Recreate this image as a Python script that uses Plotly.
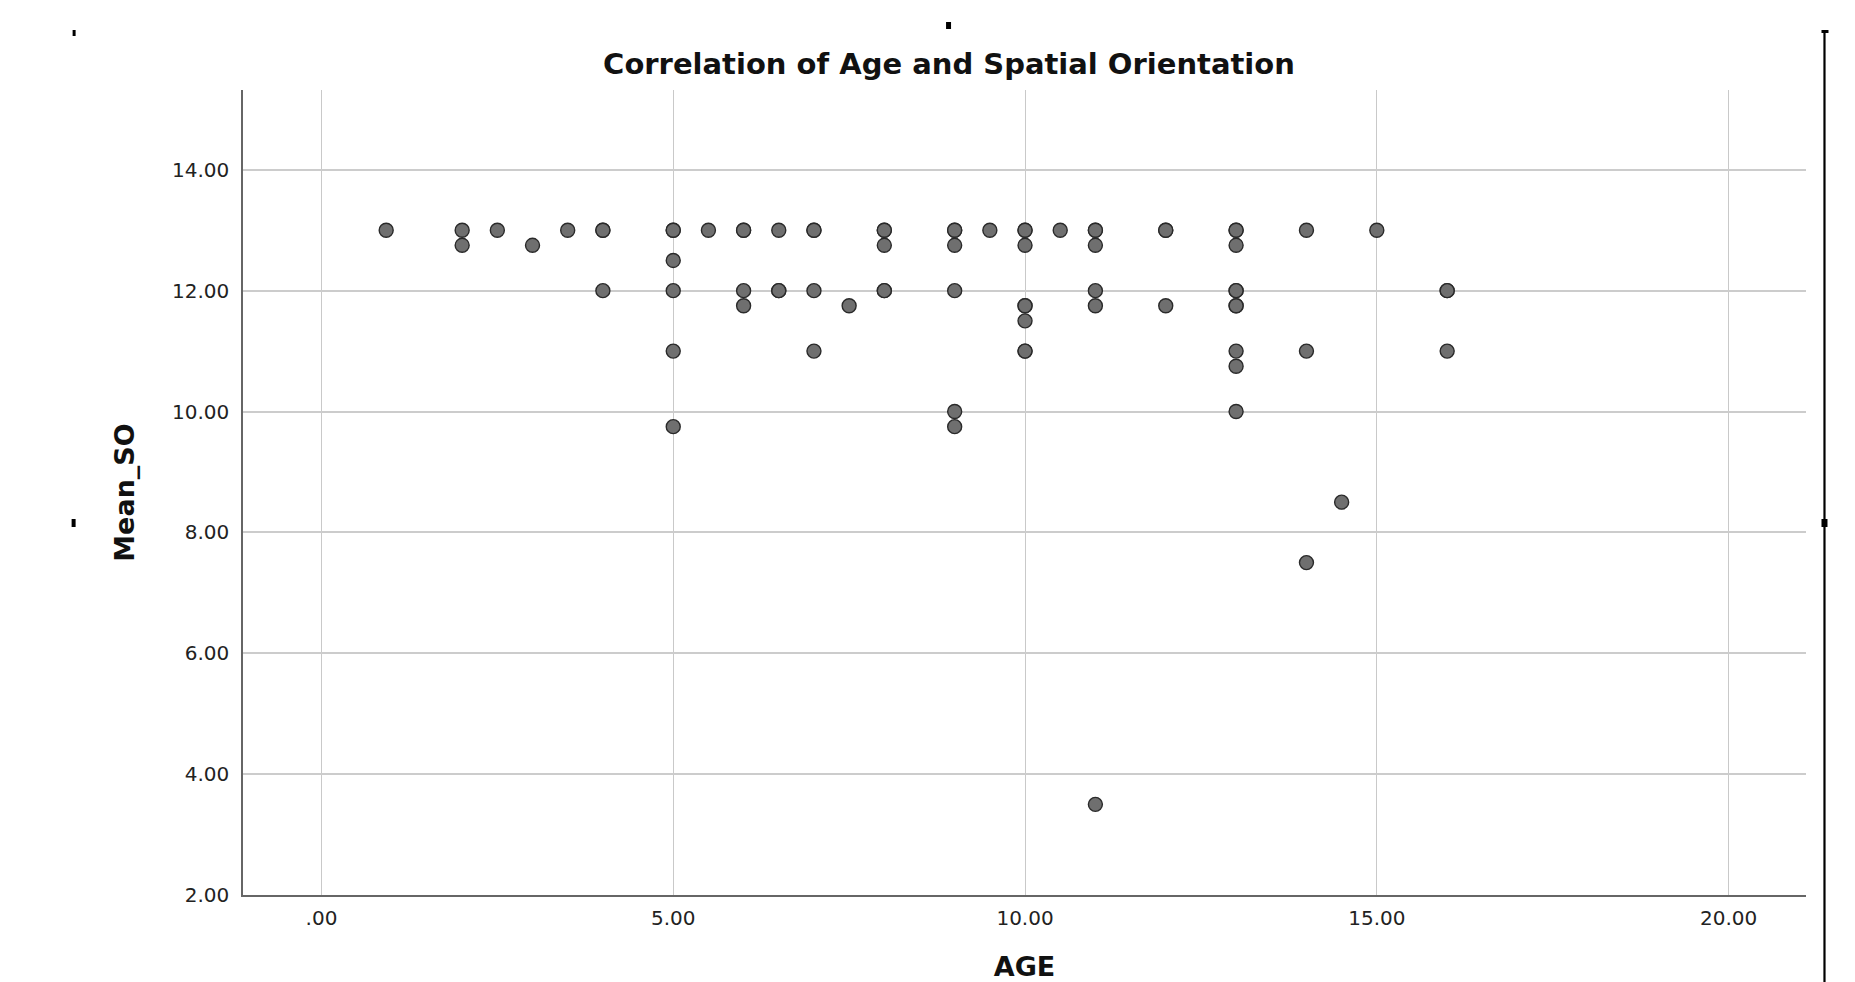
import plotly.graph_objects as go

# Data (AGE in years, Mean_SO score)
age = [0.92,
       2, 2, 2.5, 3, 3.5,
       4, 4, 4,
       5, 5, 5, 5, 5, 5,
       5.5,
       6, 6, 6, 6,
       6.5, 6.5, 6.5,
       7, 7, 7, 7,
       7.5,
       8, 8, 8, 8, 8,
       9, 9, 9, 9, 9, 9,
       9.5,
       10, 10, 10, 10, 10, 10, 10, 10,
       10.5,
       11, 11, 11, 11, 11, 11,
       12, 12, 12,
       13, 13, 13, 13, 13, 13, 13, 13, 13, 13,
       14, 14, 14,
       14.5, 15,
       16, 16, 16]
mean_so = [13.0,
           13.0, 12.75, 13.0, 12.75, 13.0,
           13.0, 13.0, 12.0,
           13.0, 13.0, 12.5, 12.0, 11.0, 9.75,
           13.0,
           13.0, 13.0, 12.0, 11.75,
           13.0, 12.0, 12.0,
           13.0, 13.0, 12.0, 11.0,
           11.75,
           13.0, 13.0, 12.75, 12.0, 12.0,
           13.0, 13.0, 12.75, 12.0, 10.0, 9.75,
           13.0,
           13.0, 13.0, 12.75, 11.75, 11.75, 11.5, 11.0, 11.0,
           13.0,
           13.0, 13.0, 12.75, 12.0, 11.75, 3.5,
           13.0, 13.0, 11.75,
           13.0, 12.75, 12.0, 12.0, 11.75, 11.75, 11.0, 10.75, 10.0, 13.0,
           13.0, 11.0, 7.5,
           8.5, 13.0,
           12.0, 12.0, 11.0]

x_ticks = [0, 5, 10, 15, 20]
x_tick_text = [".00", "5.00", "10.00", "15.00", "20.00"]
y_ticks = [2, 4, 6, 8, 10, 12, 14]
y_tick_text = ["2.00", "4.00", "6.00", "8.00", "10.00", "12.00", "14.00"]

W, H = 1855, 982
L, R, T, B = 242.5, 48.5, 90, 87
PW, PH = W - L - R, H - T - B

fig = go.Figure()
fig.add_trace(go.Scatter(
    x=age, y=mean_so, mode="markers",
    marker=dict(size=14, color="#6f6f6f", line=dict(color="#2a2a2a", width=1.4)),
    showlegend=False, hoverinfo="x+y"))

fig.update_layout(
    width=W, height=H,
    margin=dict(l=L, r=R, t=T, b=B, autoexpand=False),
    paper_bgcolor="white", plot_bgcolor="white",
    title=dict(text="<b>Correlation of Age and Spatial Orientation</b>",
               font=dict(family="DejaVu Sans", size=29, color="#111111"),
               x=949 / W, xanchor="center", xref="container",
               y=1 - 64 / H, yanchor="middle", yref="container"),
    font=dict(family="DejaVu Sans", color="#222222"),
)

fig.update_xaxes(
    range=[-1.115, 21.1], tickmode="array", tickvals=x_ticks, ticktext=x_tick_text,
    showgrid=True, gridcolor="#c9c9c9", gridwidth=1.2, zeroline=False,
    showline=True, linecolor="#666666", linewidth=2, ticks="", automargin=False,
    tickfont=dict(family="DejaVu Sans", size=20, color="#222222"),
    ticklabelstandoff=4,
    title=dict(text="<b>AGE</b>", font=dict(family="DejaVu Sans", size=27, color="#111111"),
               standoff=38))

fig.update_yaxes(
    range=[2, 15.32], tickmode="array", tickvals=y_ticks, ticktext=y_tick_text,
    showgrid=True, gridcolor="#cccccc", gridwidth=1.5, zeroline=False,
    showline=True, linecolor="#666666", linewidth=1.5, ticks="", automargin=False,
    tickfont=dict(family="DejaVu Sans", size=20, color="#222222"),
    ticklabelstandoff=8,
    title=dict(text="<b>Mean_SO</b>", font=dict(family="DejaVu Sans", size=27, color="#111111"),
               standoff=30))


def px_x(p):
    return (p - L) / PW


def px_y(p):
    return (H - B - p) / PH


# small selection-handle marks around the chart (as in the reference screenshot)
marks = [(72, 30, 75, 36), (946, 22, 951, 29), (71, 519, 75, 527), (1822, 519, 1828, 527),
         (1822, 30, 1829, 33)]
for x0, y0, x1, y1 in marks:
    fig.add_shape(type="rect", xref="paper", yref="paper",
                  x0=px_x(x0), x1=px_x(x1), y0=px_y(y1), y1=px_y(y0),
                  fillcolor="black", line=dict(width=0), layer="above")
fig.add_shape(type="line", xref="paper", yref="paper",
              x0=px_x(1825), x1=px_x(1825), y0=px_y(31), y1=px_y(982),
              line=dict(color="black", width=2.2), layer="above")

fig.write_html("out.html")
